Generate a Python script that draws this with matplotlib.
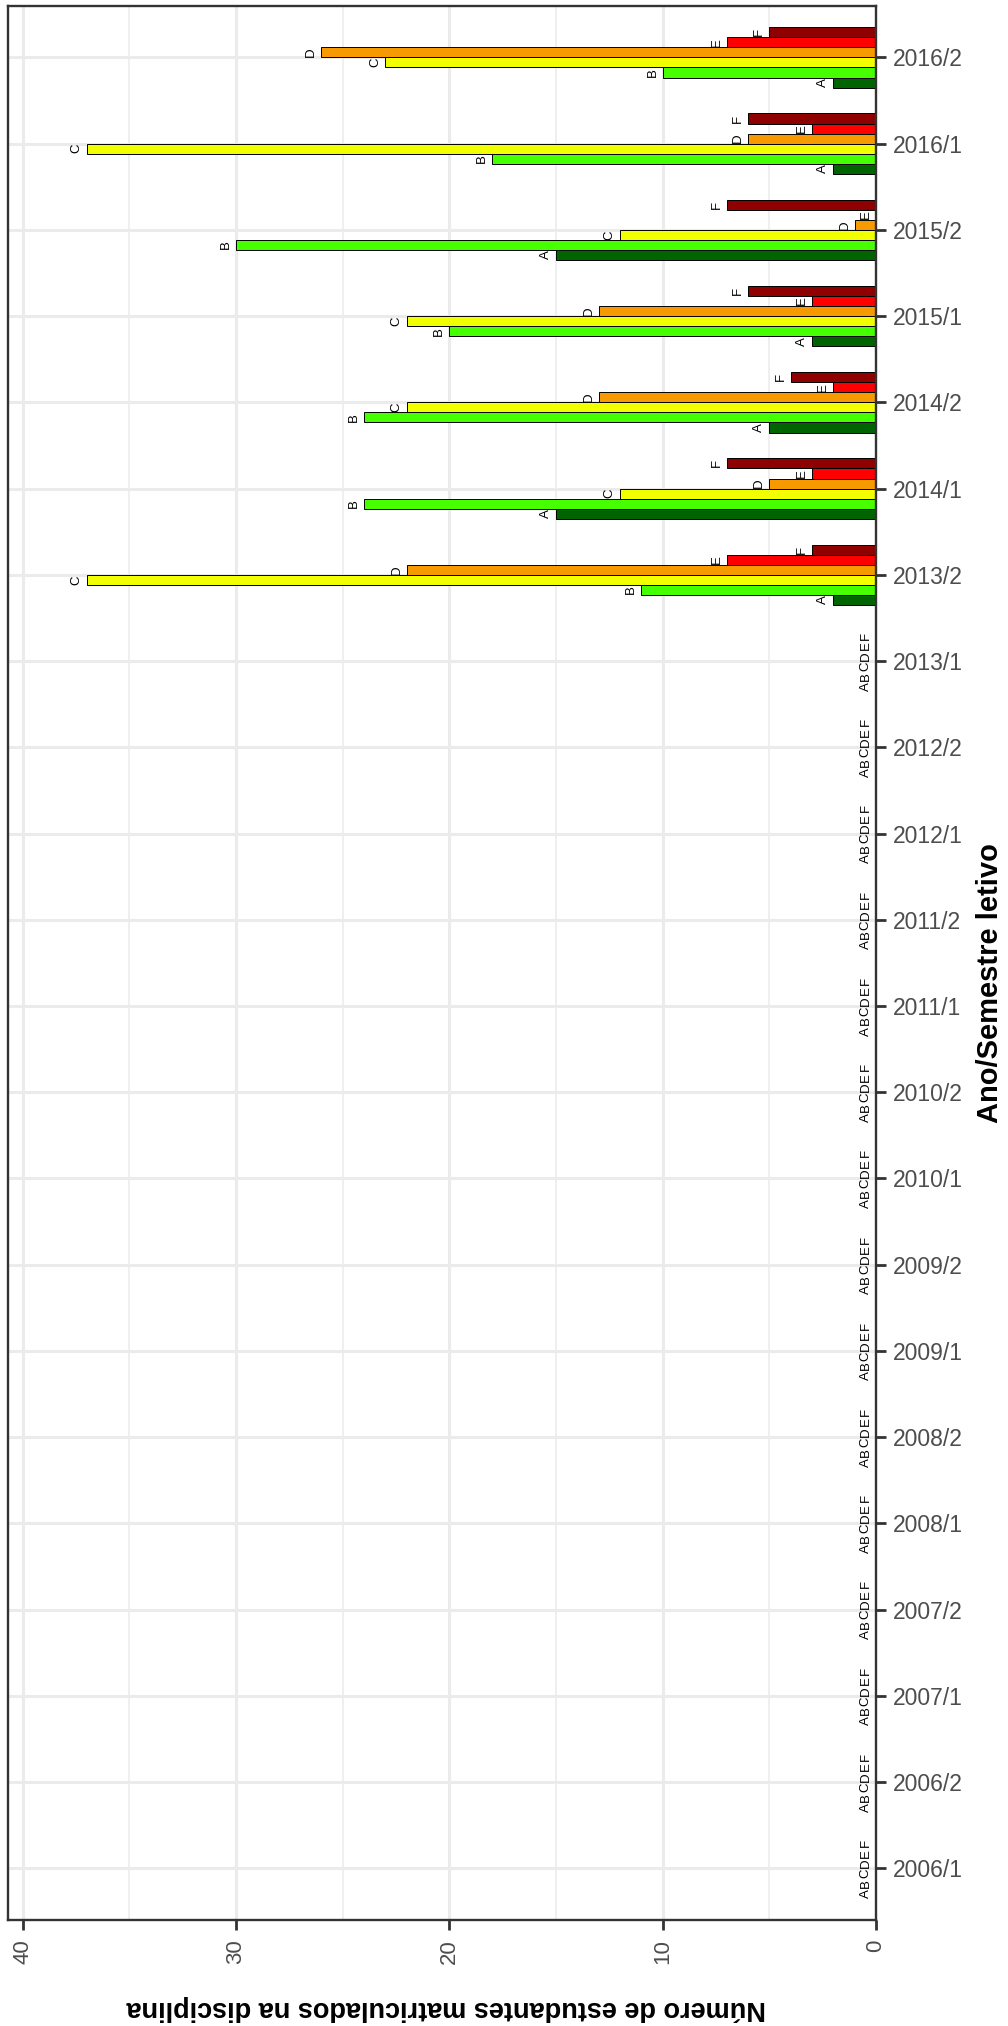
import matplotlib
matplotlib.use("Agg")
import matplotlib.pyplot as plt
import numpy as np

plt.rcParams['font.family'] = ['Liberation Sans', 'DejaVu Sans']

semesters = ["2006/1", "2006/2", "2007/1", "2007/2", "2008/1", "2008/2",
             "2009/1", "2009/2", "2010/1", "2010/2", "2011/1", "2011/2",
             "2012/1", "2012/2", "2013/1", "2013/2", "2014/1", "2014/2",
             "2015/1", "2015/2", "2016/1", "2016/2"]

grades = ["A", "B", "C", "D", "E", "F"]
vals_A = [0, 0, 0, 0, 0, 0, 0, 0, 0, 0, 0, 0, 0, 0, 0, 2, 15, 5, 3, 15, 2, 2]
vals_B = [0, 0, 0, 0, 0, 0, 0, 0, 0, 0, 0, 0, 0, 0, 0, 11, 24, 24, 20, 30, 18, 10]
vals_C = [0, 0, 0, 0, 0, 0, 0, 0, 0, 0, 0, 0, 0, 0, 0, 37, 12, 22, 22, 12, 37, 23]
vals_D = [0, 0, 0, 0, 0, 0, 0, 0, 0, 0, 0, 0, 0, 0, 0, 22, 5, 13, 13, 1, 6, 26]
vals_E = [0, 0, 0, 0, 0, 0, 0, 0, 0, 0, 0, 0, 0, 0, 0, 7, 3, 2, 3, 0, 3, 7]
vals_F = [0, 0, 0, 0, 0, 0, 0, 0, 0, 0, 0, 0, 0, 0, 0, 3, 7, 4, 6, 7, 6, 5]
colors = ["#006400", "#46FF00", "#F2FF00", "#F79A00", "#FF0000", "#8F0000"]

x_ticks = [0, 10, 20, 30, 40]
x_minor = [5, 15, 25, 35]

series = [vals_A, vals_B, vals_C, vals_D, vals_E, vals_F]

fig = plt.figure(figsize=(10.08, 20.26), dpi=100)
ax = fig.add_axes([0.00823, 0.05232, 0.869 - 0.00823, 0.99719 - 0.05232])

y = np.arange(len(semesters))
dodge = 0.7
w = dodge / len(grades)

for k, (g, vals, c) in enumerate(zip(grades, series, colors)):
    pos = y + (k - (len(grades) - 1) / 2) * w
    ax.barh(pos, vals, height=w, color=c, edgecolor="black", linewidth=0.7, zorder=2)
    for p, v in zip(pos, vals):
        ax.annotate(g, xy=(v, p), xytext=(-3, 0), textcoords="offset points",
                    ha="right", va="center", rotation=90, fontsize=9.5,
                    color="black", zorder=3)

ax.set_xlim(40.68, 0)
ax.set_ylim(-0.6, len(semesters) - 0.4)

ax.set_xticks(x_ticks)
ax.set_xticklabels([str(t) for t in x_ticks])
ax.set_xticks(x_minor, minor=True)
ax.set_yticks(y)
ax.set_yticklabels(semesters)
ax.yaxis.tick_right()

ax.tick_params(axis="y", which="major", length=7, width=2, color="#333333",
               pad=5.5, labelsize=16.5, labelcolor="#4D4D4D")
ax.tick_params(axis="x", which="major", length=7, width=2, color="#333333",
               pad=7, labelsize=16, labelcolor="#4D4D4D", labelrotation=90)
ax.tick_params(axis="x", which="minor", length=0)

ax.set_axisbelow(True)
ax.grid(which="major", axis="both", color="#EBEBEB", linewidth=2.2, zorder=0)
ax.grid(which="minor", axis="x", color="#EBEBEB", linewidth=1.1, zorder=0)

for s in ax.spines.values():
    s.set_color("#333333")
    s.set_linewidth(1.7)
    s.set_zorder(4)

fig.text(446 / 1008, 1 - 2008 / 2026, "Número de estudantes matriculados na disciplina",
         rotation=180, ha="center", va="center", fontsize=19.5, fontweight="bold",
         color="black")
fig.text(990 / 1008, 1 - 983 / 2026, "Ano/Semestre letivo",
         rotation=90, ha="center", va="center", fontsize=21, fontweight="bold",
         color="black")

fig.savefig("out.png", dpi=100, facecolor="white")
